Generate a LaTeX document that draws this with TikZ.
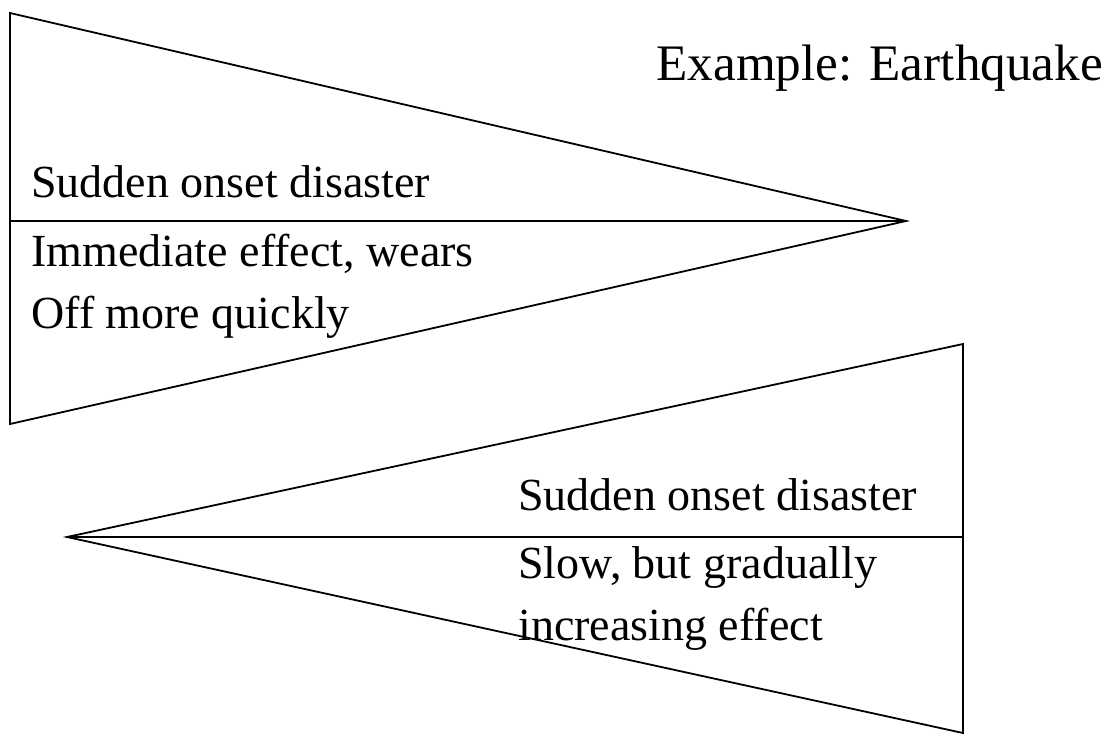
\documentclass[tikz,border=0pt]{standalone}
\usepackage{fontspec}
\setmainfont{Liberation Serif}
\usepackage{tikz}
\usetikzlibrary{positioning}

\tikzset{
  disastertext/.style={anchor=base west, inner sep=0pt, align=left, font=\fontsize{23}{31}\selectfont},
  wedge/.style={line width=0.9pt}
}

\begin{document}
\begin{tikzpicture}[x=0.5pt, y=-0.5pt]
\useasboundingbox (0, 0) rectangle (1108, 734);
% upper wedge
\draw [wedge] (10, 13) -- (906, 221) -- (10, 424) -- cycle;
\draw [wedge] (10, 221) -- (906, 221);
\node [disastertext] (suddentop) at (31, 197) {Sudden onset disaster};
\node [disastertext] (immediate) at (31, 328) {Immediate effect, wears\\Off more quickly};
\node [anchor=base west, inner sep=0pt, font=\fontsize{25.6}{31}\selectfont] (example) at (656, 80) {Example: Earthquake};
% lower wedge
\draw [wedge] (963, 344) -- (67, 537) -- (963, 733) -- cycle;
\draw [wedge] (67, 537) -- (963, 537);
\node [disastertext] (suddenlow) at (518, 510) {Sudden onset disaster};
\node [disastertext] (gradual) at (518, 640) {Slow, but gradually\\increasing effect};
\end{tikzpicture}
\end{document}
